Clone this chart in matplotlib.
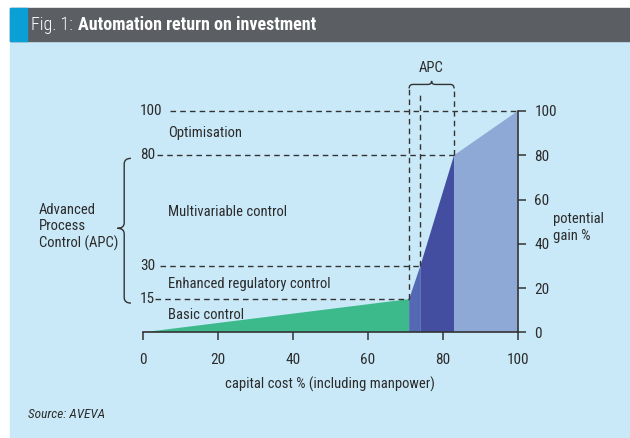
import matplotlib
matplotlib.use("Agg")
import matplotlib.pyplot as plt
from matplotlib.patches import Rectangle, PathPatch
from matplotlib.path import Path

plt.rcParams['font.family'] = ['Roboto Condensed', 'DejaVu Sans']

# ---- data ----
x_ticks = [0, 20, 40, 60, 80, 100]
y_ticks = [0, 20, 40, 60, 80, 100]
left_levels = [100, 80, 30, 15]
stage_names = ["Basic control", "Enhanced regulatory control",
               "Multivariable control", "Optimisation"]
# capital cost % at stage boundaries and potential gain % reached
cost_start = [0, 71, 74, 83]
cost_end = [71, 74, 83, 100]
gain_start = [0, 15, 30, 80]
gain_end = [15, 30, 80, 100]
stage_colors = ["#3dba8c", "#5468b4", "#444ea0", "#8fa9d7"]

W, H = 630, 438
fig = plt.figure(figsize=(W / 100, H / 100), dpi=100)

def fx(px):
    return px / W

def fy(py):
    return 1 - py / H

# background panel and header
fig.patches.append(Rectangle((fx(10), fy(437)), fx(630) - fx(10), fy(40.7) - fy(437),
                             transform=fig.transFigure, color="#c9e9f8", zorder=-3))
fig.patches.append(Rectangle((fx(10), fy(40.7)), fx(630) - fx(10), fy(8.3) - fy(40.7),
                             transform=fig.transFigure, color="#5b5f63", zorder=-3))
fig.patches.append(Rectangle((fx(10), fy(40.7)), fx(27) - fx(10), fy(8.3) - fy(40.7),
                             transform=fig.transFigure, color="#0a9fd5", zorder=-2))

t1 = fig.text(fx(31), fy(25), "Fig. 1: ", color="white", fontsize=13,
              fontweight="light", va="center", ha="left")
fig.canvas.draw()
r = fig.canvas.get_renderer()
bb = t1.get_window_extent(r)
fig.text((bb.x1 + 1) / W, fy(25), "Automation return on investment", color="white",
         fontsize=13, fontweight="bold", va="center", ha="left")

ax = fig.add_axes([fx(143.3), fy(332.3), (517.7 - 143.3) / W, (332.3 - 111) / H])
ax.set_facecolor("none")
ax.set_xlim(0, 100)
ax.set_ylim(0, 100)

for xs, xe, gs, ge, c in zip(cost_start, cost_end, gain_start, gain_end, stage_colors):
    ax.fill([xs, xs, xe, xe], [0, gs, ge, 0], color=c, lw=0, zorder=2)

ink = "#2b2b2b"
for s in ["top", "left"]:
    ax.spines[s].set_visible(False)
for s in ["bottom", "right"]:
    ax.spines[s].set_color("#333333")
    ax.spines[s].set_linewidth(1.2)
    ax.spines[s].set_zorder(3)
ax.yaxis.tick_right()
ax.set_xticks(x_ticks)
ax.set_yticks(y_ticks)
ax.tick_params(axis="x", direction="out", length=6, width=1.1, color="#333333",
               labelsize=11, labelcolor=ink, pad=9)
ax.tick_params(axis="y", direction="out", length=6, width=1.1, color="#333333",
               labelsize=11, labelcolor=ink, pad=6)

# dashed guide lines
dash = dict(color="#333333", lw=1.0, ls=(0, (4, 3)), clip_on=False, zorder=4)
h_start = {100: 7.2, 80: 3.7, 30: 4.5, 15: 3.1}
h_end = {100: 100, 80: cost_end[2], 30: cost_start[2], 15: cost_start[1]}
for lv in left_levels:
    ax.plot([h_start[lv], h_end[lv]], [lv, lv], **dash)
    ax.text(-0.9, lv, str(lv), ha="left", va="center", fontsize=11, color=ink,
            clip_on=False)
ax.plot([cost_start[1]] * 2, [gain_start[1], 110.2], **dash)
ax.plot([cost_start[2]] * 2, [gain_start[2], 108.7], **dash)
ax.plot([cost_end[2]] * 2, [gain_end[2], 110.2], **dash)

# top brace (APC)
def hbrace(xa, xb, y0, y1, y2, r):
    xm = (xa + xb) / 2
    verts = [(xa, y0), (xa, y1), (xa + r, y1), (xm - r, y1), (xm, y1), (xm, y2),
             (xm, y1), (xm + r, y1), (xb - r, y1), (xb, y1), (xb, y0)]
    codes = [Path.MOVETO, Path.CURVE3, Path.CURVE3, Path.LINETO, Path.CURVE3, Path.CURVE3,
             Path.CURVE3, Path.CURVE3, Path.LINETO, Path.CURVE3, Path.CURVE3]
    return Path(verts, codes)

def vbrace(ya, yb, ym, x0, x1, x2, r):
    verts = [(x0, ya), (x1, ya), (x1, ya - r), (x1, ym + r), (x1, ym), (x2, ym),
             (x1, ym), (x1, ym - r), (x1, yb + r), (x1, yb), (x0, yb)]
    codes = [Path.MOVETO, Path.CURVE3, Path.CURVE3, Path.LINETO, Path.CURVE3, Path.CURVE3,
             Path.CURVE3, Path.CURVE3, Path.LINETO, Path.CURVE3, Path.CURVE3]
    return Path(verts, codes)

ax.add_patch(PathPatch(hbrace(cost_start[1], cost_end[2], 110.2, 112.0, 113.6, 1.0),
                       fc="none", ec="#333333", lw=1.0, clip_on=False))
ax.text((cost_start[1] + cost_end[2]) / 2, 119.5, "APC", ha="center", va="center",
        fontsize=10.5, color=ink, clip_on=False)

ax.add_patch(PathPatch(vbrace(78.6, 13.2, 47.0, -3.3, -5.1, -6.9, 2.5),
                       fc="none", ec="#333333", lw=1.0, clip_on=False))
ax.text(-27.9, 47.5, "Advanced\nProcess\nControl (APC)", ha="left", va="center",
        fontsize=10.5, color=ink, linespacing=1.2, clip_on=False)

# stage labels
label_y = {"Optimisation": 90, "Multivariable control": 54.4,
           "Enhanced regulatory control": 21.8, "Basic control": 7.8}
for name in stage_names:
    ax.text(6.6, label_y[name], name, ha="left", va="center", fontsize=10.5,
            color=ink, zorder=5)

ax.text(109.4, 47.5, "potential\ngain %", ha="left", va="center", fontsize=10.5,
        color=ink, linespacing=1.3, clip_on=False)

fig.text(fx(330), fy(384), "capital cost % (including manpower)", ha="center",
         va="center", fontsize=10.5, color=ink)
fig.text(fx(28), fy(414), "Source: AVEVA", ha="left", va="center", fontsize=9.5,
         style="italic", color=ink)

fig.savefig("out.png", dpi=100)
